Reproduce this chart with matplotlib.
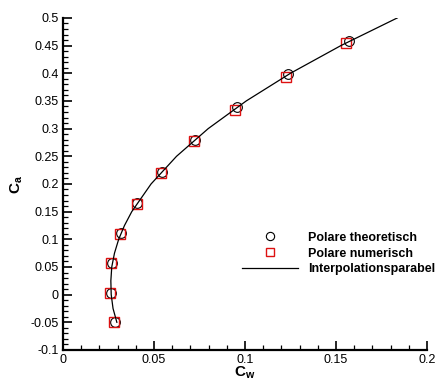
import matplotlib.pyplot as plt
import numpy as np

plt.rcParams['font.family'] = ['Liberation Sans', 'DejaVu Sans']
plt.rcParams['mathtext.fontset'] = 'custom'
plt.rcParams['mathtext.rm'] = 'Liberation Sans'
plt.rcParams['mathtext.bf'] = 'Liberation Sans:bold'

# Polare theoretisch
cw_theo = [0.0286, 0.0264, 0.0271, 0.0317, 0.0405, 0.0542, 0.0725, 0.0958, 0.1238, 0.1573]
ca_theo = [-0.049, 0.003, 0.057, 0.111, 0.165, 0.221, 0.279, 0.339, 0.399, 0.459]

# Polare numerisch
cw_num = [0.0282, 0.0260, 0.0264, 0.0315, 0.0405, 0.0538, 0.0720, 0.0945, 0.1225, 0.1555]
ca_num = [-0.049, 0.0025, 0.057, 0.110, 0.164, 0.220, 0.277, 0.334, 0.394, 0.4546]

# Interpolationsparabel
cw_fit = [0.0296, 0.0275, 0.0265, 0.0263, 0.0268, 0.0283, 0.0306, 0.0338, 0.0378, 0.0484,
          0.0624, 0.0798, 0.1007, 0.1250, 0.1527, 0.1837]
ca_fit = [-0.05, -0.025, 0.0, 0.025, 0.05, 0.075, 0.1, 0.125, 0.15, 0.2,
          0.25, 0.3, 0.35, 0.4, 0.45, 0.5]

fig = plt.figure(figsize=(4.38, 3.83), dpi=100)
ax = fig.add_axes([0.1438, 0.0862, 0.831, 0.867])

ax.plot(cw_theo, ca_theo, 'o', ms=7, mfc='none', mec='black', mew=0.8,
        label='Polare theoretisch')
ax.plot(cw_num, ca_num, 's', ms=6.5, mfc='none', mec='#dd1111', mew=1.0,
        label='Polare numerisch')
ax.plot(cw_fit, ca_fit, '-', color='black', lw=0.9, label='Interpolationsparabel')

ax.set_xlim(0, 0.2)
ax.set_ylim(-0.1, 0.5)
ax.set_xticks(np.arange(0, 0.201, 0.05))
ax.set_xticklabels(['0', '0.05', '0.1', '0.15', '0.2'])
ax.set_yticks(np.arange(-0.1, 0.501, 0.05))
ax.set_yticklabels(['-0.1', '-0.05', '0', '0.05', '0.1', '0.15', '0.2', '0.25',
                    '0.3', '0.35', '0.4', '0.45', '0.5'])
ax.set_xticks(np.arange(0, 0.201, 0.01), minor=True)
ax.set_yticks(np.arange(-0.1, 0.501, 0.01), minor=True)

ax.spines['top'].set_visible(False)
ax.spines['right'].set_visible(False)
ax.spines['left'].set_linewidth(1.6)
ax.spines['bottom'].set_linewidth(1.6)
ax.tick_params(which='major', direction='in', length=6.5, width=1.2, labelsize=9, pad=3)
ax.tick_params(which='minor', direction='in', length=3.5, width=0.9)

ax.set_xlabel(r'$\mathbf{C}_\mathbf{w}$', fontsize=11, labelpad=-1)
ax.set_ylabel(r'$\mathbf{C}_\mathbf{a}$', fontsize=11, labelpad=4)

leg = ax.legend(loc='upper left', bbox_to_anchor=(0.492, 0.356), frameon=False,
                prop={'weight': 'bold', 'size': 9}, handlelength=4.5,
                handletextpad=0.8, labelspacing=0.3, borderpad=0,
                borderaxespad=0, markerscale=0.85)

plt.savefig('out.png', dpi=100)
